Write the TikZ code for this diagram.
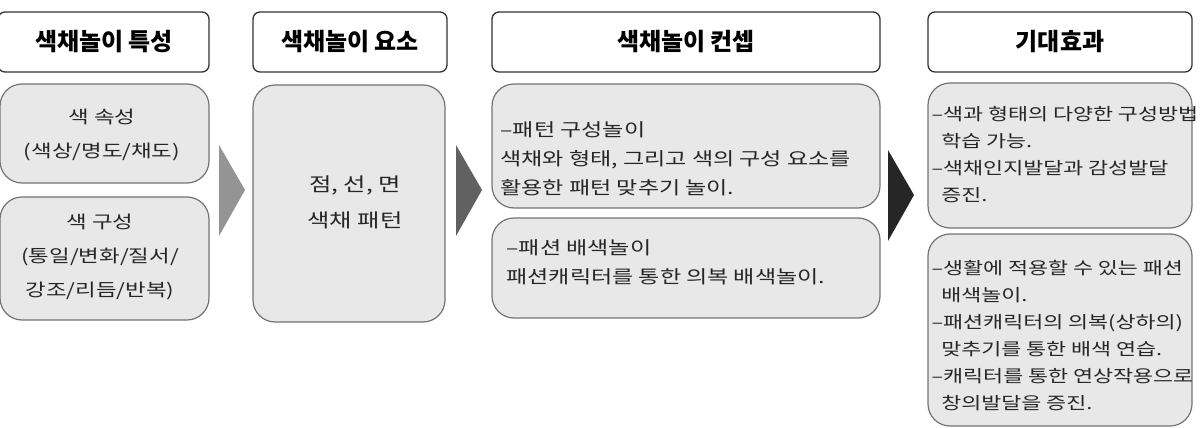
\documentclass[tikz,border=0pt]{standalone}
\usepackage{fontspec}
\setmainfont{Noto Sans CJK KR}
\newfontfamily\widekr[FakeStretch=1.28]{Noto Sans CJK KR}
\begin{document}
\begin{tikzpicture}[x=1pt,y=-1pt,
  hd/.style={draw=black!80,line width=1.3pt,rounded corners=7pt,fill=white},
  bx/.style={draw=black!55,line width=1.2pt,rounded corners=22pt,fill=black!9},
  ht/.style={font=\fontsize{24}{28}\selectfont\bfseries},
  bt/.style={font=\widekr\fontsize{17.5}{34}\selectfont,align=center,text=black!85},
  lt/.style={font=\widekr\fontsize{18}{29}\selectfont,align=left,text=black!85,anchor=west},
  st/.style={font=\widekr\fontsize{17}{27}\selectfont,align=left,text=black!85,anchor=west}]
\useasboundingbox (0,0) rectangle (1204,428);
% headers
\draw[hd] (-2,12) rectangle (209,72); \node[ht] (h1) at (104,42) {색채놀이 특성};
\draw[hd] (253,12) rectangle (447,72); \node[ht] (h2) at (350,42) {색채놀이 요소};
\draw[hd] (492,12) rectangle (880,72); \node[ht] (h3) at (686,42) {색채놀이 컨셉};
\draw[hd] (928,12) rectangle (1192,72); \node[ht] (h4) at (1060,42) {기대효과};
% column 1
\draw[bx] (0,84) rectangle (209,183);
\node[bt] (a1) at (102,135) {색 속성\\(색상/명도/채도)};
\draw[bx] (0,197) rectangle (209,320);
\node[bt] (a2) at (100,257) {색 구성\\(통일/변화/질서/\\강조/리듬/반복)};
% column 2
\draw[bx] (253,85) rectangle (445,322);
\node[bt,font=\widekr\fontsize{19}{36}\selectfont] (b1) at (355,202) {점, 선, 면\\색채 패턴};
% column 3
\draw[bx] (492,84) rectangle (880,208);
\node[lt] (c1) at (497,159) {–패턴 구성놀이\\색채와 형태, 그리고 색의 구성 요소를\\활용한 패턴 맞추기 놀이.};
\draw[bx] (492,218) rectangle (880,318);
\node[lt] (c2) at (503,262) {–패션 배색놀이\\패션캐릭터를 통한 의복 배색놀이.};
% column 4
\draw[bx] (928,83) rectangle (1192,228);
\node[st] (d1) at (928,155) {–색과 형태의 다양한 구성방법\\\ \ 학습 가능.\\–색채인지발달과 감성발달\\\ \ 증진.};
\draw[bx] (928,234) rectangle (1192,426);
\node[st] (d2) at (928,336) {–생활에 적용할 수 있는 패션\\\ \ 배색놀이.\\–패션캐릭터의 의복(상하의)\\\ \ 맞추기를 통한 배색 연습.\\–캐릭터를 통한 연상작용으로\\\ \ 창의발달을 증진.};
% arrows
\fill[black!42] (219,145) -- (245,190) -- (219,236) -- cycle;
\fill[black!62] (456,145) -- (482,190) -- (456,236) -- cycle;
\fill[black!85] (888,150) -- (914,195) -- (888,241) -- cycle;
\end{tikzpicture}
\end{document}
